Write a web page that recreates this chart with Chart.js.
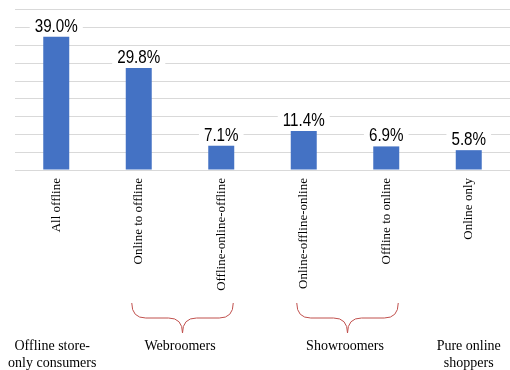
<!DOCTYPE html>
<html>
<head>
<meta charset="utf-8">
<script src="https://cdn.jsdelivr.net/npm/chart.js@4"></script>
<style>
  html, body { margin: 0; padding: 0; background: #fff; }
  #wrap { width: 510px; height: 370px; }
</style>
</head>
<body>
<div id="wrap"><canvas id="chart"></canvas></div>
<script>
// values
const categories = ['All offline', 'Online to offline', 'Offline-online-offline',
                    'Online-offline-online', 'Offline to online', 'Online only'];
const shares = [39.0, 29.8, 7.1, 11.4, 6.9, 5.8];
const yMax = 46.8;
const yStep = 5.2;

// groups shown under the axis: label lines + which categories they cover
const groupLines = [
  ['Offline store-', 'only consumers'],
  ['Webroomers'],
  ['Showroomers'],
  ['Pure online', 'shoppers']
];
const groupMembers = [[0], [1, 2], [3, 4], [5]];

const BLUE = '#4472c4';
const BRACE = '#c0504d';

// white-boxed percentage labels above the bars (squeezed a bit, the original font is narrow)
const valueLabels = {
  id: 'valueLabels',
  afterDatasetsDraw(chart) {
    const ctx = chart.ctx;
    const meta = chart.getDatasetMeta(0);
    const squeeze = 0.8;
    ctx.save();
    ctx.font = '19px "Liberation Sans", Arial, sans-serif';
    ctx.textAlign = 'center';
    ctx.textBaseline = 'alphabetic';
    meta.data.forEach((bar, i) => {
      const txt = shares[i].toFixed(1) + '%';
      const w = ctx.measureText(txt).width * squeeze;
      const base = bar.y - 5;
      ctx.fillStyle = '#fff';
      ctx.fillRect(bar.x - w / 2 - 5, base - 17, w + 10, 20);
      ctx.save();
      ctx.translate(bar.x, base);
      ctx.scale(squeeze, 1);
      ctx.fillStyle = '#000';
      ctx.fillText(txt, 0, 0);
      ctx.restore();
    });
    ctx.restore();
  }
};

// braces and group names under the rotated tick labels
const groupNotes = {
  id: 'groupNotes',
  afterDraw(chart) {
    const ctx = chart.ctx;
    const x = chart.scales.x;
    ctx.save();
    groupMembers.forEach((m, g) => {
      const a = x.getPixelForValue(m[0]);
      const b = x.getPixelForValue(m[m.length - 1]);
      const cx = (a + b) / 2;
      if (m.length > 1) {
        const L = a - 7, R = b + 12, C = (L + R) / 2;
        const top = 303, mid = 318, bot = 333, r = 14;
        ctx.strokeStyle = BRACE;
        ctx.lineWidth = 1;
        ctx.beginPath();
        ctx.moveTo(L, top);
        ctx.quadraticCurveTo(L, mid, L + r, mid);
        ctx.lineTo(C - r, mid);
        ctx.quadraticCurveTo(C, mid, C, bot);
        ctx.quadraticCurveTo(C, mid, C + r, mid);
        ctx.lineTo(R - r, mid);
        ctx.quadraticCurveTo(R, mid, R, top);
        ctx.stroke();
      }
      ctx.fillStyle = '#000';
      ctx.font = '14px "Liberation Serif", "Times New Roman", serif';
      ctx.textAlign = 'center';
      ctx.textBaseline = 'middle';
      groupLines[g].forEach((line, k) => {
        ctx.fillText(line, cx - (g === 0 ? 4 : 0), 346 + k * 17);
      });
    });
    ctx.restore();
  }
};

new Chart(document.getElementById('chart'), {
  type: 'bar',
  data: {
    labels: categories,
    datasets: [{
      data: shares,
      backgroundColor: BLUE,
      barPercentage: 0.315,
      categoryPercentage: 1
    }]
  },
  options: {
    responsive: true,
    maintainAspectRatio: false,
    animation: false,
    layout: { padding: { top: 10, left: 0, right: 0, bottom: 0 } },
    plugins: {
      legend: { display: false },
      tooltip: { enabled: false }
    },
    scales: {
      x: {
        grid: { display: false, drawTicks: false },
        border: { color: '#d9d9d9' },
        ticks: {
          minRotation: 90, maxRotation: 90, padding: 8,
          color: '#000',
          font: { family: '"Liberation Serif", "Times New Roman", serif', size: 13 }
        },
        afterFit(s) { s.height = 200; }
      },
      y: {
        min: 0, max: yMax,
        grid: { color: '#d9d9d9', drawTicks: false },
        border: { display: false },
        ticks: { display: false, stepSize: yStep },
        afterBuildTicks(s) {
          const t = [];
          for (let i = 0; i * yStep <= yMax + 0.001; i++) t.push({ value: i * yStep });
          s.ticks = t;
        },
        afterFit(s) { s.width = 15; }
      }
    }
  },
  plugins: [valueLabels, groupNotes]
});
</script>
</body>
</html>
